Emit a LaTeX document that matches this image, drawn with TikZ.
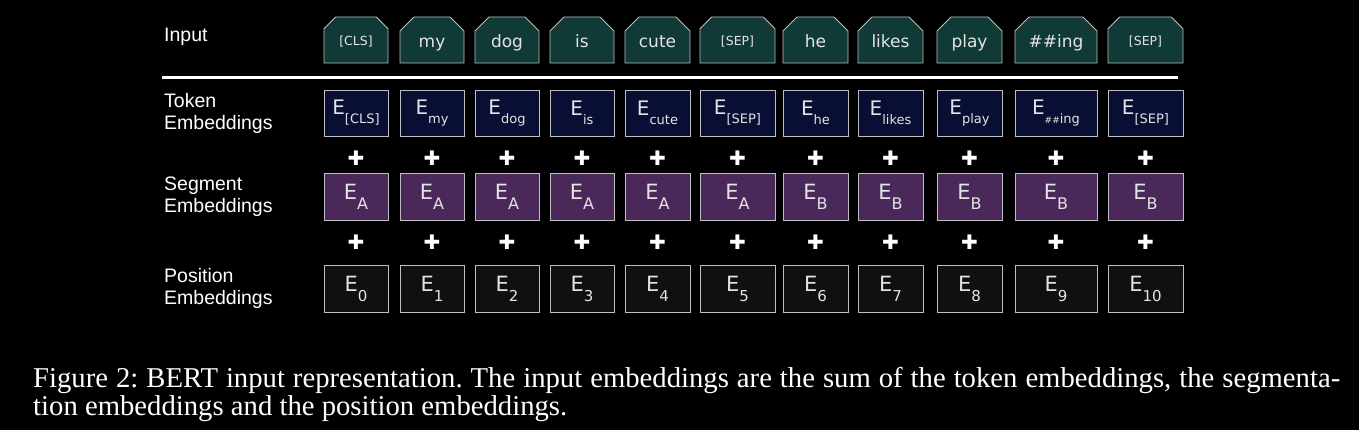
\documentclass[tikz,border=0pt]{standalone}
\usepackage{fontspec}
\setmainfont{Liberation Serif}
\newfontfamily\labelfont{Liberation Sans}
\newfontfamily\boxfont{DejaVu Sans}
\usetikzlibrary{shapes.misc}

\definecolor{inputfill}{RGB}{16,58,54}
\definecolor{tokenfill}{RGB}{8,14,52}
\definecolor{segmentfill}{RGB}{74,40,90}
\definecolor{positionfill}{RGB}{16,16,16}
\definecolor{boxline}{RGB}{190,190,190}
\definecolor{boxtext}{RGB}{228,228,228}

% E with a lowered label, one size per row
\newcommand{\tokemb}[1]{{\fontsize{20}{24}\selectfont E}\raisebox{-9pt}{\fontsize{13}{15}\selectfont #1}}
\newcommand{\segemb}[1]{{\fontsize{21}{24}\selectfont E}\raisebox{-10pt}{\fontsize{16}{18}\selectfont #1}}
\newcommand{\posemb}[1]{{\fontsize{21}{24}\selectfont E}\raisebox{-10pt}{\fontsize{15}{18}\selectfont #1}}

\begin{document}
\begin{tikzpicture}[x=1pt, y=-1pt,
    rowlabel/.style={anchor=west, align=left, inner sep=0pt, text=white,
        font=\labelfont\fontsize{19.5}{22}\selectfont},
    inputbox/.style={draw=boxline, fill=inputfill, text=boxtext,
        chamfered rectangle, chamfered rectangle corners={north west,north east},
        chamfered rectangle xsep=8pt, chamfered rectangle ysep=6pt,
        line width=0.8pt, inner sep=0pt, minimum height=46pt,
        text height=16pt, text depth=0pt,
        font=\boxfont\fontsize{17}{20}\selectfont},
    smalltext/.style={font=\boxfont\fontsize{12.5}{15}\selectfont, text height=11.5pt},
    embbox/.style={draw=boxline, rectangle, text=boxtext,
        line width=0.8pt, inner sep=0pt, minimum height=46pt, font=\boxfont},
    tokenbox/.style={embbox, fill=tokenfill},
    segmentbox/.style={embbox, fill=segmentfill, minimum height=47pt},
    positionbox/.style={embbox, fill=positionfill, minimum height=47pt},
    plus/.style={inner sep=0pt, text=white, font=\boxfont\fontsize{20}{20}\selectfont},
    caption/.style={anchor=base west, inner sep=0pt, text=white,
        font=\rmfamily\frenchspacing\fontsize{28.7}{28}\selectfont}
    ]
    \fill[black] (0,0) rectangle (1359,430);
    \useasboundingbox (0,0) rectangle (1359,430);

    % row labels
    \node[rowlabel] (lbinput) at (164,37) {Input};
    \node[rowlabel] (lbtoken) at (164,113) {Token\\Embeddings};
    \node[rowlabel] (lbsegment) at (164,197) {Segment\\Embeddings};
    \node[rowlabel] (lbposition) at (164,288) {Position\\Embeddings};

    % input tokens
    \node[inputbox, smalltext, minimum width=64pt] (in1) at (356,40) {[CLS]};
    \node[inputbox, minimum width=64pt] (in2) at (432,40) {my};
    \node[inputbox, minimum width=64pt] (in3) at (507,40) {dog};
    \node[inputbox, minimum width=64pt] (in4) at (582,40) {is};
    \node[inputbox, minimum width=65pt] (in5) at (657.5,40) {cute};
    \node[inputbox, smalltext, minimum width=75pt] (in6) at (737.5,40) {[SEP]};
    \node[inputbox, minimum width=65pt] (in7) at (815.5,40) {he};
    \node[inputbox, minimum width=65pt] (in8) at (890.5,40) {likes};
    \node[inputbox, minimum width=65pt] (in9) at (969.5,40) {play};
    \node[inputbox, minimum width=82pt] (in10) at (1056,40) {\#\#ing};
    \node[inputbox, smalltext, minimum width=75pt] (in11) at (1145.5,40) {[SEP]};

    % rule under the input
    \coordinate (rulestart) at (162,78);
    \coordinate (ruleend) at (1178,78);
    \draw[white, line width=3pt] (rulestart) -- (ruleend);

    % token embeddings
    \node[tokenbox, minimum width=64pt] (tok1) at (356,113) {\tokemb{[CLS]}};
    \node[tokenbox, minimum width=64pt] (tok2) at (432,113) {\tokemb{my}};
    \node[tokenbox, minimum width=64pt] (tok3) at (507,113) {\tokemb{dog}};
    \node[tokenbox, minimum width=64pt] (tok4) at (582,113) {\tokemb{is}};
    \node[tokenbox, minimum width=65pt] (tok5) at (657.5,113) {\tokemb{cute}};
    \node[tokenbox, minimum width=75pt] (tok6) at (737.5,113) {\tokemb{[SEP]}};
    \node[tokenbox, minimum width=65pt] (tok7) at (815.5,113) {\tokemb{he}};
    \node[tokenbox, minimum width=65pt] (tok8) at (890.5,113) {\tokemb{likes}};
    \node[tokenbox, minimum width=65pt] (tok9) at (969.5,113) {\tokemb{play}};
    \node[tokenbox, minimum width=82pt] (tok10) at (1056,113) {\tokemb{{\fontsize{9}{10}\selectfont\#\#}ing}};
    \node[tokenbox, minimum width=75pt] (tok11) at (1145.5,113) {\tokemb{[SEP]}};

    % first row of plus signs
    \node[plus] (plusa1) at (356,158) {✚};
    \node[plus] (plusa2) at (432,158) {✚};
    \node[plus] (plusa3) at (507,158) {✚};
    \node[plus] (plusa4) at (582,158) {✚};
    \node[plus] (plusa5) at (657.5,158) {✚};
    \node[plus] (plusa6) at (737.5,158) {✚};
    \node[plus] (plusa7) at (815.5,158) {✚};
    \node[plus] (plusa8) at (890.5,158) {✚};
    \node[plus] (plusa9) at (969.5,158) {✚};
    \node[plus] (plusa10) at (1056,158) {✚};
    \node[plus] (plusa11) at (1145.5,158) {✚};

    % segment embeddings
    \node[segmentbox, minimum width=64pt] (seg1) at (356,196.5) {\segemb{A}};
    \node[segmentbox, minimum width=64pt] (seg2) at (432,196.5) {\segemb{A}};
    \node[segmentbox, minimum width=64pt] (seg3) at (507,196.5) {\segemb{A}};
    \node[segmentbox, minimum width=64pt] (seg4) at (582,196.5) {\segemb{A}};
    \node[segmentbox, minimum width=65pt] (seg5) at (657.5,196.5) {\segemb{A}};
    \node[segmentbox, minimum width=75pt] (seg6) at (737.5,196.5) {\segemb{A}};
    \node[segmentbox, minimum width=65pt] (seg7) at (815.5,196.5) {\segemb{B}};
    \node[segmentbox, minimum width=65pt] (seg8) at (890.5,196.5) {\segemb{B}};
    \node[segmentbox, minimum width=65pt] (seg9) at (969.5,196.5) {\segemb{B}};
    \node[segmentbox, minimum width=82pt] (seg10) at (1056,196.5) {\segemb{B}};
    \node[segmentbox, minimum width=75pt] (seg11) at (1145.5,196.5) {\segemb{B}};

    % second row of plus signs
    \node[plus] (plusb1) at (356,242) {✚};
    \node[plus] (plusb2) at (432,242) {✚};
    \node[plus] (plusb3) at (507,242) {✚};
    \node[plus] (plusb4) at (582,242) {✚};
    \node[plus] (plusb5) at (657.5,242) {✚};
    \node[plus] (plusb6) at (737.5,242) {✚};
    \node[plus] (plusb7) at (815.5,242) {✚};
    \node[plus] (plusb8) at (890.5,242) {✚};
    \node[plus] (plusb9) at (969.5,242) {✚};
    \node[plus] (plusb10) at (1056,242) {✚};
    \node[plus] (plusb11) at (1145.5,242) {✚};

    % position embeddings
    \node[positionbox, minimum width=64pt] (pos1) at (356,288.5) {\posemb{0}};
    \node[positionbox, minimum width=64pt] (pos2) at (432,288.5) {\posemb{1}};
    \node[positionbox, minimum width=64pt] (pos3) at (507,288.5) {\posemb{2}};
    \node[positionbox, minimum width=64pt] (pos4) at (582,288.5) {\posemb{3}};
    \node[positionbox, minimum width=65pt] (pos5) at (657.5,288.5) {\posemb{4}};
    \node[positionbox, minimum width=75pt] (pos6) at (737.5,288.5) {\posemb{5}};
    \node[positionbox, minimum width=65pt] (pos7) at (815.5,288.5) {\posemb{6}};
    \node[positionbox, minimum width=65pt] (pos8) at (890.5,288.5) {\posemb{7}};
    \node[positionbox, minimum width=65pt] (pos9) at (969.5,288.5) {\posemb{8}};
    \node[positionbox, minimum width=82pt] (pos10) at (1056,288.5) {\posemb{9}};
    \node[positionbox, minimum width=75pt] (pos11) at (1145.5,288.5) {\posemb{10}};

    % caption
    \node[caption] (capone) at (33,387) {\hbox to 1307pt{Figure 2: BERT input representation. The input embeddings are the sum of the token embeddings, the segmenta-}};
    \node[caption] (captwo) at (33,415) {tion embeddings and the position embeddings.};
\end{tikzpicture}
\end{document}
